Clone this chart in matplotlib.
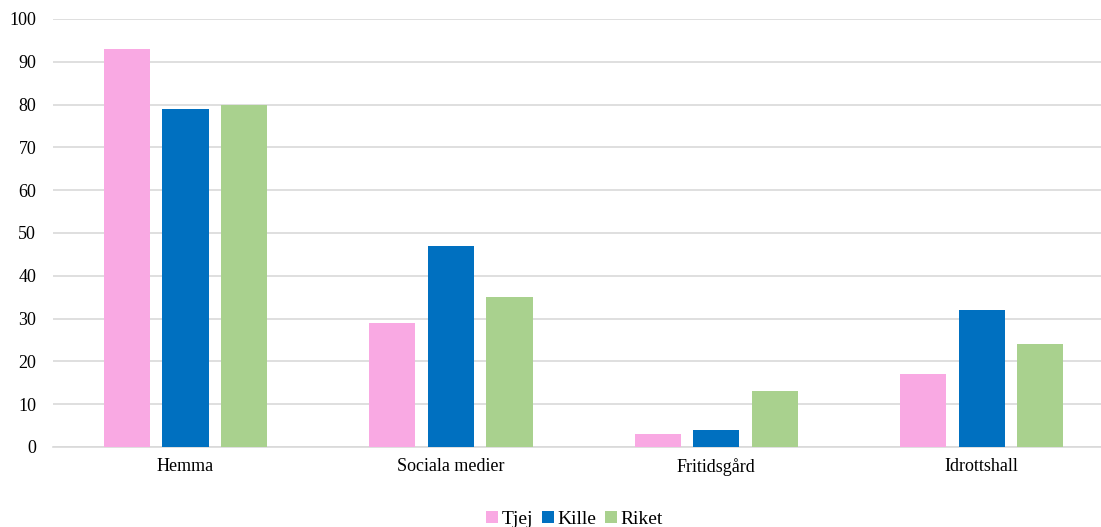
import matplotlib.pyplot as plt
import numpy as np

categories = ['Hemma', 'Sociala medier', 'Fritidsgård', 'Idrottshall']
tjej = [93, 29, 3, 17]
kille = [79, 47, 4, 32]
riket = [80, 35, 13, 24]
series_names = ['Tjej', 'Kille', 'Riket']

plt.rcParams['font.family'] = ['Liberation Serif', 'DejaVu Serif']

fig = plt.figure(figsize=(11.01, 5.27), dpi=100)
ax = fig.add_axes([0.048, 0.152, 0.952, 0.812])

x = np.arange(len(categories))
w = 0.174
step = 0.221
colors = ['#F9A9E3', '#0070C0', '#A9D18E']
for i, (vals, name) in enumerate(zip([tjej, kille, riket], series_names)):
    ax.bar(x + (i - 1) * step, vals, width=w, color=colors[i], label=name, zorder=3)

ax.set_xlim(-0.5, 3.45)
ax.set_ylim(0, 100)
ax.set_yticks(range(0, 101, 10))
ax.yaxis.grid(True, color='#D9D9D9', linewidth=1.2, zorder=0)
ax.set_xticks(x)
ax.set_xticklabels(categories)
ax.tick_params(axis='both', length=0, labelsize=13, colors='#000000')
ax.tick_params(axis='x', pad=8)
ax.tick_params(axis='y', pad=12)
for s in ['top', 'right', 'left']:
    ax.spines[s].set_visible(False)
ax.spines['bottom'].set_color('#D9D9D9')
ax.spines['bottom'].set_linewidth(1.2)

fig.legend(loc='lower center', bbox_to_anchor=(0.522, -0.035), ncol=3, frameon=False,
           fontsize=14, handlelength=0.6, handleheight=0.6, handletextpad=0.2, columnspacing=0.45)

fig.savefig('out.png', dpi=100)
